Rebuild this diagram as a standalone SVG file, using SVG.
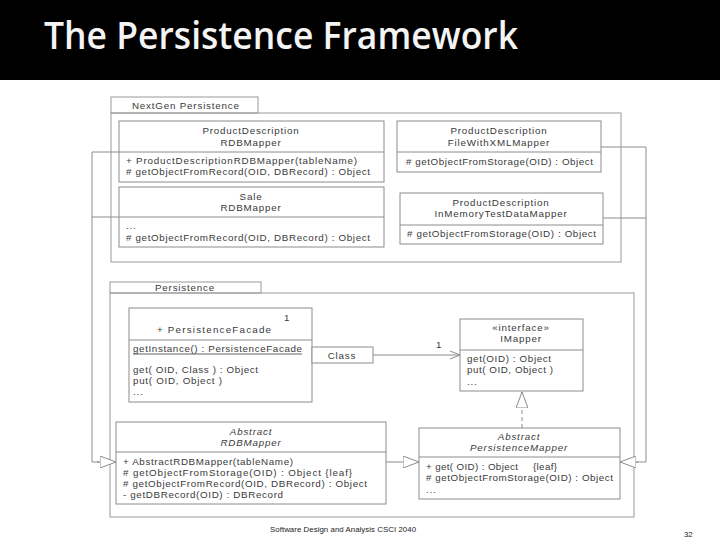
<svg xmlns="http://www.w3.org/2000/svg" width="720" height="540" viewBox="0 0 720 540">
<style>
.box{fill:#fff;stroke:#8c8c8c;stroke-width:1}
.pkg{fill:none;stroke:#9a9a9a;stroke-width:1}
.ln{fill:none;stroke:#8c8c8c;stroke-width:1}
.t{font-family:"Liberation Sans",Arial,sans-serif;font-size:9.8px;fill:#3a3a3a;letter-spacing:0.8px}
.m{letter-spacing:0}
.c{text-anchor:middle}
.i{font-style:italic}
</style>
<defs>
<marker id="tri" viewBox="0 0 16 12" refX="16" refY="6" markerWidth="16" markerHeight="12" markerUnits="userSpaceOnUse" orient="auto">
<path d="M0,0 L16,6 L0,12 Z" fill="#fff" stroke="#8c8c8c"/>
</marker>
<marker id="open" viewBox="0 0 10 10" refX="10" refY="5" markerWidth="10" markerHeight="10" markerUnits="userSpaceOnUse" orient="auto">
<path d="M0,1 L10,5 L0,9" fill="none" stroke="#8c8c8c"/>
</marker>
</defs>
<rect x="0" y="0" width="720" height="540" fill="#fff"/>
<rect x="0" y="0" width="720" height="80" fill="#000"/>
<text x="44" y="49" font-family="'Open Sans','Liberation Sans',sans-serif" font-weight="600" font-size="37" fill="#f4f4f4" textLength="474" lengthAdjust="spacingAndGlyphs">The Persistence Framework</text>

<g id="pkg-nextgen">
<rect class="pkg" x="111" y="97" width="147" height="16"/>
<rect class="pkg" x="111" y="113" width="510" height="149"/>
<text class="t" x="132" y="108.5">NextGen Persistence</text>
</g>
<g id="pkg-persistence">
<rect class="pkg" x="110" y="282" width="151" height="11"/>
<rect class="pkg" x="110" y="293" width="524" height="224"/>
<text class="t c" x="185" y="291">Persistence</text>
</g>

<g id="connectors">
<polyline class="ln" points="119,152 92,152 92,462 100,462" />
<line class="ln" x1="92" y1="217" x2="119" y2="217"/>
<line class="ln" x1="97" y1="462" x2="116" y2="462" marker-end="url(#tri)"/>
<polyline class="ln" points="601,147 646,147 646,462 636,462"/>
<line class="ln" x1="603" y1="218" x2="646" y2="218"/>
<line class="ln" x1="638" y1="462" x2="620" y2="462" marker-end="url(#tri)"/>
<line class="ln" x1="386" y1="462" x2="419" y2="462" marker-end="url(#tri)"/>
<line class="ln" x1="522" y1="428" x2="522" y2="392" stroke-dasharray="4,3" marker-end="url(#tri)"/>
<line class="ln" x1="373" y1="355" x2="460" y2="355" marker-end="url(#open)"/>
<text class="t" x="436" y="348">1</text>
</g>

<g id="pd-rdbmapper">
<rect class="box" x="119" y="121" width="265" height="61"/>
<line class="ln" x1="119" y1="152" x2="384" y2="152"/>
<text class="t c" x="251" y="134">ProductDescription</text>
<text class="t c" x="251" y="146">RDBMapper</text>
<text class="t m" x="126" y="164" textLength="231" lengthAdjust="spacing">+ ProductDescriptionRDBMapper(tableName)</text>
<text class="t m" x="126" y="175" textLength="244" lengthAdjust="spacing"># getObjectFromRecord(OID, DBRecord) : Object</text>
</g>
<g id="sale-rdbmapper">
<rect class="box" x="119" y="187" width="265" height="60"/>
<line class="ln" x1="119" y1="217" x2="384" y2="217"/>
<text class="t c" x="251" y="200">Sale</text>
<text class="t c" x="251" y="211">RDBMapper</text>
<text class="t" x="126" y="229">...</text>
<text class="t m" x="126" y="241" textLength="244" lengthAdjust="spacing"># getObjectFromRecord(OID, DBRecord) : Object</text>
</g>
<g id="pd-filexml">
<rect class="box" x="397" y="121" width="204" height="51"/>
<line class="ln" x1="397" y1="152" x2="601" y2="152"/>
<text class="t c" x="499" y="134">ProductDescription</text>
<text class="t c" x="499" y="146">FileWithXMLMapper</text>
<text class="t m" x="406" y="165" textLength="187" lengthAdjust="spacing"># getObjectFromStorage(OID) : Object</text>
</g>
<g id="pd-inmemory">
<rect class="box" x="400" y="193" width="203" height="51"/>
<line class="ln" x1="400" y1="225" x2="603" y2="225"/>
<text class="t c" x="501" y="206">ProductDescription</text>
<text class="t c" x="501" y="217">InMemoryTestDataMapper</text>
<text class="t m" x="407" y="237" textLength="189" lengthAdjust="spacing"># getObjectFromStorage(OID) : Object</text>
</g>

<g id="facade">
<rect class="box" x="129" y="308" width="183" height="94"/>
<line class="ln" x1="129" y1="340" x2="312" y2="340"/>
<text class="t" x="284" y="321">1</text>
<text class="t c m" x="214" y="333" textLength="114" lengthAdjust="spacing">+ PersistenceFacade</text>
<text class="t m" x="133" y="352" textLength="169" lengthAdjust="spacing">getInstance() : PersistenceFacade</text>
<line x1="133" y1="354" x2="302" y2="354" stroke="#3a3a3a" stroke-width="0.8"/>
<text class="t m" x="133" y="373" textLength="125" lengthAdjust="spacing">get( OID, Class ) : Object</text>
<text class="t m" x="133" y="384" textLength="89" lengthAdjust="spacing">put( OID, Object )</text>
<text class="t" x="133" y="395">...</text>
</g>
<g id="class-qualifier">
<rect class="box" x="312" y="347" width="61" height="16"/>
<text class="t c" x="342" y="358.5">Class</text>
</g>
<g id="imapper">
<rect class="box" x="460" y="319" width="123" height="72"/>
<line class="ln" x1="460" y1="350" x2="583" y2="350"/>
<text class="t c" x="521" y="331">«interface»</text>
<text class="t c" x="521" y="342">IMapper</text>
<text class="t m" x="467" y="362" textLength="84" lengthAdjust="spacing">get(OID) : Object</text>
<text class="t m" x="467" y="373" textLength="86" lengthAdjust="spacing">put( OID, Object )</text>
<text class="t" x="467" y="385">...</text>
</g>
<g id="abstract-rdbmapper">
<rect class="box" x="116" y="422" width="270" height="82"/>
<line class="ln" x1="116" y1="452" x2="386" y2="452"/>
<text class="t c i" x="251" y="435">Abstract</text>
<text class="t c i" x="251" y="446">RDBMapper</text>
<text class="t m" x="123" y="465" textLength="170" lengthAdjust="spacing">+ AbstractRDBMapper(tableName)</text>
<text class="t m" x="123" y="476" textLength="229" lengthAdjust="spacing"># getObjectFromStorage(OID) : Object {leaf}</text>
<text class="t m" x="123" y="487" textLength="244" lengthAdjust="spacing"># getObjectFromRecord(OID, DBRecord) : Object</text>
<text class="t m" x="123" y="498" textLength="160" lengthAdjust="spacing">- getDBRecord(OID) : DBRecord</text>
</g>
<g id="abstract-pmapper">
<rect class="box" x="419" y="428" width="201" height="71"/>
<line class="ln" x1="419" y1="457" x2="620" y2="457"/>
<text class="t c i" x="519" y="440">Abstract</text>
<text class="t c i" x="519" y="451">PersistenceMapper</text>
<text class="t m" x="426" y="470" textLength="92" lengthAdjust="spacing">+ get( OID) : Object</text>
<text class="t m" x="533" y="470" textLength="24" lengthAdjust="spacing">{leaf}</text>
<text class="t m" x="426" y="481" textLength="187" lengthAdjust="spacing"># getObjectFromStorage(OID) : Object</text>
<text class="t" x="426" y="493">...</text>
</g>

<text x="270" y="532" font-family="'Liberation Sans',Arial,sans-serif" font-size="7.8" fill="#222" textLength="146" lengthAdjust="spacing">Software Design and Analysis CSCI 2040</text>
<text x="684" y="537" font-family="'Liberation Sans',Arial,sans-serif" font-size="7.8" fill="#222">32</text>
</svg>
